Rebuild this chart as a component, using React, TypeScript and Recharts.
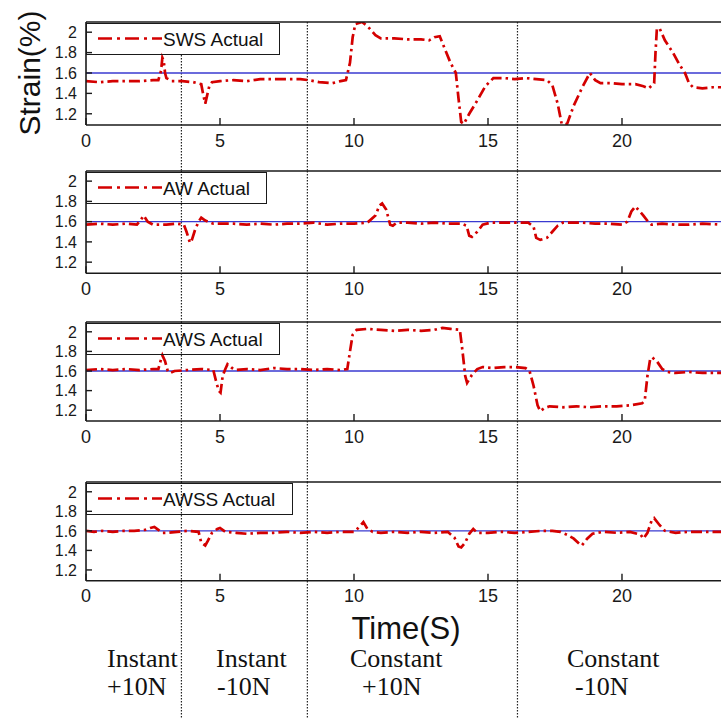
import React from "react";
import { LineChart, Line, XAxis, YAxis, ReferenceLine, Legend } from "recharts";

// ---------- data ----------
const TIME_TICKS = [0, 5, 10, 15, 20];
const STRAIN_TICKS = [1.2, 1.4, 1.6, 1.8, 2];
const SETPOINT = 1.6;
const PHASE_BOUNDS = [3.56, 8.26, 16.1];
const PHASE_LABELS = [
  ["Instant", "+10N"],
  ["Instant", "-10N"],
  ["Constant", "+10N"],
  ["Constant", "-10N"],
];

const swsTime = [0, 0.5, 1, 1.5, 2, 2.5, 2.7, 2.8, 2.85, 2.9, 2.95, 3, 3.2, 3.6, 4, 4.3, 4.38, 4.45, 4.52, 4.6, 4.7, 5, 5.5, 6, 6.5, 7, 7.5, 8, 8.3, 8.7, 9.2, 9.5, 9.7, 9.85, 9.95, 10.05, 10.3, 10.5, 10.8, 11, 11.5, 12, 12.5, 12.8, 13, 13.2, 13.4, 13.6, 13.8, 13.9, 14, 14.1, 14.3, 14.6, 14.9, 15.2, 15.6, 16, 16.4, 16.8, 17.2, 17.4, 17.6, 17.75, 17.95, 18.2, 18.5, 18.8, 19, 19.2, 19.6, 20, 20.5, 20.8, 21, 21.2, 21.25, 21.3, 21.4, 21.6, 21.9, 22.15, 22.35, 22.5, 22.65, 23, 23.4, 23.8];
const swsStrain = [1.52, 1.51, 1.52, 1.52, 1.52, 1.53, 1.53, 1.62, 1.75, 1.72, 1.6, 1.55, 1.52, 1.52, 1.51, 1.49, 1.38, 1.3, 1.38, 1.47, 1.51, 1.52, 1.53, 1.52, 1.54, 1.54, 1.54, 1.54, 1.53, 1.51, 1.5, 1.52, 1.53, 1.7, 1.95, 2.08, 2.1, 2.06, 1.97, 1.94, 1.94, 1.93, 1.93, 1.92, 1.95, 1.96, 1.83, 1.7, 1.6, 1.35, 1.12, 1.1, 1.2, 1.33, 1.47, 1.55, 1.55, 1.54, 1.55, 1.54, 1.53, 1.48, 1.3, 1.1, 1.1, 1.28, 1.45, 1.6, 1.53, 1.5, 1.5, 1.49, 1.49, 1.47, 1.45, 1.5, 1.8, 2.03, 2.04, 1.92, 1.8, 1.68, 1.6, 1.5, 1.46, 1.45, 1.46, 1.46];

const awTime = [0, 0.5, 1, 1.5, 1.9, 2.05, 2.15, 2.3, 2.5, 3, 3.4, 3.65, 3.75, 3.88, 3.95, 4.07, 4.2, 4.3, 4.45, 4.75, 5.5, 6, 6.5, 7, 7.5, 8, 8.5, 9, 9.5, 10, 10.5, 10.8, 10.95, 11.05, 11.2, 11.35, 11.45, 11.6, 12, 12.5, 13, 13.5, 14, 14.2, 14.3, 14.4, 14.6, 14.8, 15.1, 15.5, 16, 16.5, 16.7, 16.8, 16.95, 17.2, 17.4, 17.6, 17.8, 18.5, 19, 19.5, 20, 20.2, 20.35, 20.5, 20.6, 20.8, 21, 21.1, 21.5, 22, 22.5, 23, 23.8];
const awStrain = [1.57, 1.58, 1.57, 1.58, 1.57, 1.62, 1.66, 1.6, 1.57, 1.57, 1.58, 1.57, 1.5, 1.39, 1.42, 1.52, 1.6, 1.64, 1.61, 1.58, 1.58, 1.57, 1.58, 1.57, 1.58, 1.58, 1.59, 1.57, 1.58, 1.58, 1.59, 1.66, 1.76, 1.78, 1.72, 1.57, 1.56, 1.59, 1.59, 1.58, 1.59, 1.58, 1.58, 1.56, 1.46, 1.45, 1.5, 1.57, 1.59, 1.59, 1.59, 1.59, 1.55, 1.44, 1.42, 1.44, 1.5, 1.56, 1.59, 1.59, 1.58, 1.58, 1.57, 1.6, 1.7, 1.75, 1.72, 1.66, 1.59, 1.57, 1.58, 1.57, 1.57, 1.58, 1.57];

const awsTime = [0, 0.5, 1, 1.5, 2, 2.5, 2.7, 2.78, 2.85, 2.95, 3.05, 3.15, 3.3, 3.8, 4.3, 4.75, 4.85, 4.95, 5.02, 5.1, 5.2, 5.28, 5.45, 5.6, 6, 6.5, 7, 7.5, 8, 8.5, 9, 9.5, 9.75, 9.85, 9.95, 10.1, 10.5, 11, 11.5, 12, 12.5, 13, 13.3, 13.6, 13.95, 14.05, 14.15, 14.22, 14.4, 14.6, 14.8, 15.2, 15.6, 16, 16.4, 16.55, 16.7, 16.85, 16.95, 17.1, 17.3, 17.8, 18.3, 18.8, 19.3, 19.8, 20.3, 20.75, 20.85, 20.95, 21.05, 21.12, 21.3, 21.5, 21.7, 22, 22.5, 23, 23.8];
const awsStrain = [1.61, 1.62, 1.61, 1.62, 1.61, 1.62, 1.62, 1.7, 1.76, 1.7, 1.6, 1.58, 1.6, 1.61, 1.62, 1.61, 1.5, 1.4, 1.38, 1.55, 1.62, 1.67, 1.63, 1.61, 1.62, 1.61, 1.63, 1.62, 1.62, 1.61, 1.62, 1.61, 1.62, 1.8, 1.97, 2.02, 2.03, 2.02, 2.01, 2.02, 2.01, 2.02, 2.04, 2.03, 2.02, 1.8, 1.55, 1.48, 1.56, 1.62, 1.64, 1.63, 1.64, 1.64, 1.63, 1.6, 1.45, 1.25, 1.19, 1.22, 1.24, 1.23, 1.24, 1.23, 1.24, 1.24, 1.25, 1.27, 1.3, 1.55, 1.72, 1.74, 1.7, 1.62, 1.59, 1.58, 1.59, 1.58, 1.58];

const awssTime = [0, 0.3, 0.6, 1, 1.4, 1.8, 2.2, 2.4, 2.55, 2.7, 2.85, 3, 3.4, 3.8, 4.2, 4.3, 4.45, 4.55, 4.7, 4.9, 5, 5.2, 5.6, 6, 6.5, 7, 7.5, 8, 8.5, 9, 9.5, 10, 10.2, 10.35, 10.5, 10.7, 11, 11.5, 12, 12.5, 13, 13.5, 13.75, 13.9, 14, 14.15, 14.3, 14.45, 14.6, 15, 15.5, 16, 16.5, 17, 17.4, 17.7, 17.95, 18.2, 18.4, 18.5, 18.7, 18.9, 19.3, 19.8, 20.3, 20.7, 20.8, 20.95, 21.1, 21.2, 21.4, 21.6, 22, 22.5, 23, 23.8];
const awssStrain = [1.6, 1.59, 1.6, 1.59, 1.6, 1.6, 1.61, 1.63, 1.64, 1.61, 1.58, 1.58, 1.59, 1.6, 1.59, 1.48, 1.45, 1.5, 1.58, 1.62, 1.63, 1.59, 1.58, 1.57, 1.58, 1.58, 1.59, 1.58, 1.59, 1.58, 1.59, 1.59, 1.64, 1.69, 1.62, 1.59, 1.58, 1.59, 1.58, 1.59, 1.58, 1.59, 1.53, 1.44, 1.43, 1.48, 1.57, 1.62, 1.58, 1.58, 1.59, 1.58, 1.59, 1.6, 1.6, 1.59, 1.56, 1.52, 1.47, 1.45, 1.52, 1.57, 1.59, 1.58, 1.59, 1.56, 1.52, 1.58, 1.7, 1.73, 1.66, 1.6, 1.58, 1.59, 1.59, 1.59];

// ---------- styling / layout ----------
const SANS = "'Liberation Sans', Arial, sans-serif";
const SERIF = "'Liberation Serif', 'Times New Roman', serif";
const RED = "#d40000";
const BLUE = "#3a3ad0";
const AXIS = "#1a1a1a";
const PAGE_H = 718;
const CHART_W = 761;
const Y_AXIS_W = 86;
const RIGHT_M = 5;
const X_DOMAIN: [number, number] = [0, 25];
const Y_DOMAIN: [number, number] = [1.09, 2.1];
const PX_PER_SEC = (CHART_W - Y_AXIS_W - RIGHT_M) / (X_DOMAIN[1] - X_DOMAIN[0]);
const LEGEND_H = 32;

const zip = (t: number[], v: number[]) => t.map((x, i) => ({ t: x, v: v[i] }));

const panels = [
  { name: "SWS Actual", data: zip(swsTime, swsStrain), plotTop: 21.5, plotH: 103, legendW: 194, first: true },
  { name: "AW Actual", data: zip(awTime, awStrain), plotTop: 171, plotH: 102.3, legendW: 181, first: false },
  { name: "AWS Actual", data: zip(awsTime, awsStrain), plotTop: 321.7, plotH: 99, legendW: 194, first: false },
  { name: "AWSS Actual", data: zip(awssTime, awssStrain), plotTop: 482.3, plotH: 98.7, legendW: 207, first: false },
];

const makeLegend = (w: number) => (props: any) => {
  const item = (props.payload && props.payload[0]) || {};
  return (
    <div
      style={{
        width: w,
        height: LEGEND_H,
        boxSizing: "border-box",
        border: `1.6px solid ${AXIS}`,
        position: "relative",
        fontFamily: SANS,
        fontSize: 19,
        color: "#111",
      }}
    >
      <svg width={68} height={30} style={{ position: "absolute", left: 9, top: 0 }}>
        <line x1={2} x2={66} y1={14.5} y2={14.5} stroke={item.color || RED} strokeWidth={2.6} strokeDasharray="14 5 3 5" />
      </svg>
      <span style={{ position: "absolute", left: 76, top: 0, lineHeight: "31px", whiteSpace: "nowrap" }}>{item.value}</span>
    </div>
  );
};

const yTick = (props: any) => (
  <text x={props.x} y={props.y} dy="0.36em" textAnchor="end" fontFamily={SANS} fontSize={16} fill="#1a1a1a">
    {String(props.payload && props.payload.value)}
  </text>
);

const timeLabel = (props: any) => {
  const vb = props.viewBox || { x: 0, y: 0 };
  return (
    <text x={vb.x + 320} y={vb.y + 58} textAnchor="middle" fontFamily={SANS} fontSize={31} fill="#111">
      Time(S)
    </text>
  );
};

function Panel({ p, nextTop }: { p: (typeof panels)[number]; nextTop: number }) {
  const plotBottom = p.plotTop + p.plotH;
  const below = nextTop - plotBottom; // space down to the next panel (or page end)
  const mt = 1;
  const height = mt + 1 + p.plotH + below;
  const span = Y_DOMAIN[1] - Y_DOMAIN[0];
  const unitsPerPx = span / p.plotH;
  const yLow = Y_DOMAIN[0] - below * unitsPerPx;
  const legendRight = p.legendW / PX_PER_SEC;
  const isLast = nextTop >= PAGE_H;
  return (
    <div style={{ position: "absolute", left: 0, top: p.plotTop - mt - 1 }}>
      <LineChart width={CHART_W} height={height} data={p.data} margin={{ top: mt, right: RIGHT_M, left: 0, bottom: 0 }}>
        <XAxis
          xAxisId="top"
          orientation="top"
          type="number"
          dataKey="t"
          domain={X_DOMAIN}
          ticks={TIME_TICKS}
          allowDataOverflow
          height={1}
          tick={false}
          tickSize={-7}
          axisLine={{ stroke: AXIS, strokeWidth: 1.6 }}
          tickLine={{ stroke: AXIS, strokeWidth: 1.4 }}
        />
        <XAxis
          type="number"
          dataKey="t"
          domain={X_DOMAIN}
          ticks={TIME_TICKS}
          interval={0}
          allowDataOverflow
          height={below}
          tickSize={-7}
          tickMargin={16}
          tick={{ fontSize: 18, fill: "#1a1a1a", fontFamily: SANS }}
          axisLine={{ stroke: AXIS, strokeWidth: 1.6 }}
          tickLine={{ stroke: AXIS, strokeWidth: 1.4 }}
          label={isLast ? timeLabel : undefined}
        />
        <YAxis
          type="number"
          domain={Y_DOMAIN}
          ticks={STRAIN_TICKS}
          interval={0}
          allowDataOverflow
          width={Y_AXIS_W}
          tickSize={-6}
          tickMargin={15}
          tick={yTick}
          axisLine={{ stroke: AXIS, strokeWidth: 1.6 }}
          tickLine={{ stroke: AXIS, strokeWidth: 1.4 }}
        />
        {PHASE_BOUNDS.map((b) => {
          const top = p.first && b < legendRight ? Y_DOMAIN[1] - (LEGEND_H + 1) * unitsPerPx : Y_DOMAIN[1];
          return (
            <ReferenceLine
              key={b}
              segment={[
                { x: b, y: top },
                { x: b, y: yLow },
              ]}
              stroke="#222"
              strokeWidth={1.2}
              strokeDasharray="1.5 1.5"
              ifOverflow="visible"
            />
          );
        })}
        <ReferenceLine y={SETPOINT} stroke={BLUE} strokeWidth={1.3} />
        <Line
          type="linear"
          dataKey="v"
          name={p.name}
          stroke={RED}
          strokeWidth={2.7}
          strokeDasharray="11 4 2.5 4"
          dot={false}
          isAnimationActive={false}
        />
        <Legend
          layout="horizontal"
          align="center"
          verticalAlign="middle"
          content={makeLegend(p.legendW)}
          wrapperStyle={{ left: Y_AXIS_W, top: mt + 2, width: p.legendW, height: LEGEND_H }}
        />
      </LineChart>
    </div>
  );
}

const labelPos = [
  { x: 107, x2: 107 },
  { x: 216, x2: 217 },
  { x: 350, x2: 362 },
  { x: 567, x2: 575 },
];

const STRAIN_CX = 30;
const STRAIN_CY = panels[0].plotTop + panels[0].plotH / 2;

// each panel paired with the plot top of the panel below it (or the page end)
const stacked = panels.map((p, i) => ({ p, nextTop: i < panels.length - 1 ? panels[i + 1].plotTop : PAGE_H }));

export default function App() {
  return (
    <div style={{ position: "absolute", left: 0, top: 0, width: 721, height: PAGE_H, overflow: "hidden", background: "#fff" }}>
      {/* drawn bottom-up so the top panel is painted last */}
      {[...stacked].reverse().map(({ p, nextTop }) => (
        <Panel key={p.name} p={p} nextTop={nextTop} />
      ))}
      <div
        style={{
          position: "absolute",
          left: STRAIN_CX - 70,
          top: STRAIN_CY - 17,
          width: 140,
          height: 34,
          lineHeight: "34px",
          textAlign: "center",
          fontFamily: SANS,
          fontSize: 30,
          color: "#111",
          transform: "rotate(-90deg)",
          whiteSpace: "nowrap",
          pointerEvents: "none",
        }}
      >
        Strain(%)
      </div>
      <svg width={721} height={PAGE_H} style={{ position: "absolute", left: 0, top: 0, pointerEvents: "none" }}>
        {PHASE_LABELS.map((lab, i) => (
          <g key={i} fontFamily={SERIF} fontSize={26} fill="#111">
            <text x={labelPos[i].x} y={667}>{lab[0]}</text>
            <text x={labelPos[i].x2} y={695}>{lab[1]}</text>
          </g>
        ))}
      </svg>
    </div>
  );
}
